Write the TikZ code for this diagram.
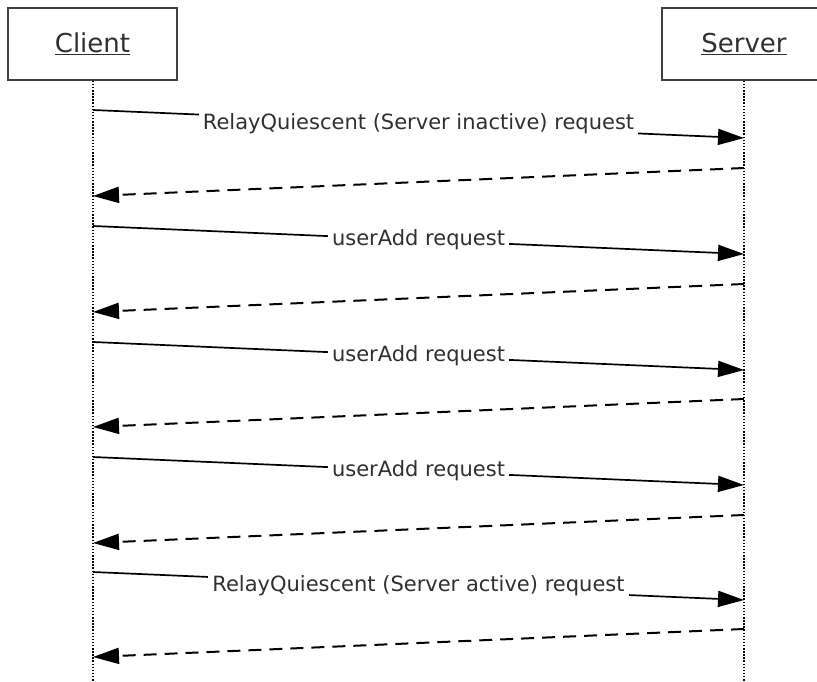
\documentclass[tikz,border=0pt]{standalone}
\usepackage{fontspec}
\setmainfont{DejaVu Sans}
\usetikzlibrary{arrows.meta}
\definecolor{txt}{HTML}{303030}
\definecolor{boxc}{HTML}{404040}
\tikzset{
  actor/.style={draw=boxc, line width=1.5pt, minimum height=72pt, inner sep=0pt,
                font=\fontsize{26}{26}\selectfont, text=txt},
  life/.style={line width=1.2pt, dash pattern=on 1.5pt off 1.6pt},
  req/.style={line width=1.7pt, -{Triangle[length=26pt,width=16pt]}},
  rep/.style={line width=2pt, dash pattern=on 13pt off 8pt, -{Triangle[length=26pt,width=16pt]}},
  lbl/.style={fill=white, inner xsep=4pt, inner ysep=1pt, text=txt,
              font=\fontsize{21}{21}\selectfont, midway}
}
\begin{document}
\begin{tikzpicture}[x=1pt,y=-1pt]
\useasboundingbox (0,0) rectangle (817,681);
\node[actor, minimum width=169pt] (client) at (92.5,44) {\underline{Client}};
\node[actor, minimum width=164pt] (server) at (744,44) {\underline{Server}};
\coordinate (cend) at (93,681);
\coordinate (send) at (744,681);
\draw[life] (client.south -| cend) -- (cend);
\draw[life] (server.south) -- (send);
% message anchors
\coordinate (c1) at (93,110);  \coordinate (s1) at (744,138);
\coordinate (s2) at (744,168); \coordinate (c2) at (93,196);
\coordinate (c3) at (93,226);  \coordinate (s3) at (744,254);
\coordinate (s4) at (744,284); \coordinate (c4) at (93,312);
\coordinate (c5) at (93,342);  \coordinate (s5) at (744,370);
\coordinate (s6) at (744,399); \coordinate (c6) at (93,427);
\coordinate (c7) at (93,457);  \coordinate (s7) at (744,485);
\coordinate (s8) at (744,515); \coordinate (c8) at (93,543);
\coordinate (c9) at (93,572);  \coordinate (s9) at (744,600);
\coordinate (s10) at (744,629); \coordinate (c10) at (93,657);
\draw[req] (c1) -- node[lbl] (l1) {RelayQuiescent (Server inactive) request} (s1);
\draw[rep] (s2) -- (c2);
\draw[req] (c3) -- node[lbl] (l3) {userAdd request} (s3);
\draw[rep] (s4) -- (c4);
\draw[req] (c5) -- node[lbl] (l5) {userAdd request} (s5);
\draw[rep] (s6) -- (c6);
\draw[req] (c7) -- node[lbl] (l7) {userAdd request} (s7);
\draw[rep] (s8) -- (c8);
\draw[req] (c9) -- node[lbl] (l9) {RelayQuiescent (Server active) request} (s9);
\draw[rep] (s10) -- (c10);
\end{tikzpicture}
\end{document}
